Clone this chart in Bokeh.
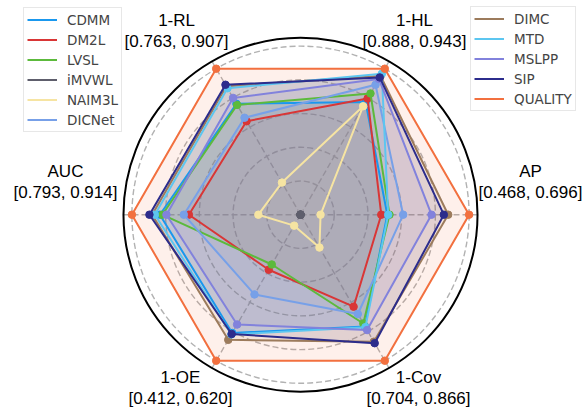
import numpy as np
from bokeh.plotting import figure
from bokeh.models import Legend, LegendItem, Range1d
from bokeh.embed import file_html
from bokeh.resources import INLINE
from bokeh.core.properties import value

# ---- data (normalised scores, 0 = centre, 1 = best) ----
axis_names = ["AP", "1-HL", "1-RL", "AUC", "1-OE", "1-Cov"]
axis_ranges = ["[0.468, 0.696]", "[0.888, 0.943]", "[0.763, 0.907]",
               "[0.793, 0.914]", "[0.412, 0.620]", "[0.704, 0.866]"]
axis_angles_deg = [0, 60, 120, 180, 240, 300]

methods = ["CDMM", "DM2L", "LVSL", "iMVWL", "NAIM3L", "DICNet",
           "DIMC", "MTD", "MSLPP", "SIP", "QUALITY"]
colors = ["#1a98ee", "#d93636", "#5cba3c", "#5e5e6c", "#f6e4a2", "#77a0e8",
          "#9c7b5c", "#5cc6f0", "#8282dc", "#2c2c8c", "#f2703f"]

CDMM = [0.515, 0.772, 0.760, 0.834, 0.810, 0.765]
DM2L = [0.479, 0.796, 0.640, 0.662, 0.377, 0.630]
LVSL = [0.528, 0.830, 0.752, 0.820, 0.341, 0.745]
iMVWL = [0.0, 0.0, 0.0, 0.0, 0.0, 0.0]
NAIM3L = [0.119, 0.743, 0.220, 0.250, 0.075, 0.225]
DICNet = [0.609, 0.890, 0.664, 0.692, 0.546, 0.680]
DIMC = [0.876, 0.950, 0.880, 0.880, 0.857, 0.870]
MTD = [0.520, 0.965, 0.866, 0.864, 0.820, 0.770]
MSLPP = [0.777, 0.930, 0.800, 0.795, 0.752, 0.790]
SIP = [0.850, 0.940, 0.890, 0.896, 0.817, 0.880]
QUALITY = [1.0, 1.0, 1.0, 1.0, 1.0, 1.0]
scores = [CDMM, DM2L, LVSL, iMVWL, NAIM3L, DICNet, DIMC, MTD, MSLPP, SIP, QUALITY]

grid_levels = [0.2, 0.4, 0.6, 0.8, 1.0]
r_max = 1.05

# ---- layout ----
W, H = 584, 407
cx, cy = 300.0, 214.2      # centre in canvas pixels (from top-left)
s = 168.6                  # pixels per unit radius

p = figure(width=W, height=H, output_backend="svg", toolbar_location=None,
           x_axis_location=None, y_axis_location=None, min_border=0,
           x_range=Range1d(-cx / s, (W - cx) / s),
           y_range=Range1d(-(H - cy) / s, cy / s))
p.grid.visible = False
p.outline_line_color = None
p.background_fill_color = "white"

theta = np.deg2rad(axis_angles_deg)
ct, st = np.cos(theta), np.sin(theta)

# grid
for g in grid_levels:
    p.circle(x=0, y=0, radius=g, fill_color=None, line_color="#b2b2b2",
             line_width=1.4, line_dash="6 3")
p.segment(x0=np.zeros(6), y0=np.zeros(6), x1=ct * r_max, y1=st * r_max,
          line_color="#b2b2b2", line_width=1.4, line_dash="6 3")

# fills first
for sc, c in zip(scores, colors):
    r = np.array(sc)
    p.patch(list(r * ct), list(r * st), fill_color=c, fill_alpha=0.1, line_color=None)

# lines + markers
line_renderers = []
for sc, c in zip(scores, colors):
    r = np.array(sc)
    xs = list(r * ct) + [r[0] * ct[0]]
    ys = list(r * st) + [r[0] * st[0]]
    lr = p.line(xs, ys, line_color=c, line_width=2)
    p.scatter(list(r * ct), list(r * st), size=7.5, fill_color=c, line_color=c)
    line_renderers.append(lr)

# outer spine
p.circle(x=0, y=0, radius=r_max, fill_color=None, line_color="black", line_width=2)

# axis labels
lab_x = []
lab_y = []
for a in axis_angles_deg:
    if a == 0:
        lab_x.append(1.364); lab_y.append(0.191)
    elif a == 180:
        lab_x.append(-1.394); lab_y.append(0.191)
    elif a in (60, 120):
        lab_x.append(0.676 if a == 60 else -0.735); lab_y.append(1.087)
    else:
        lab_x.append(-0.712 if a == 240 else 0.700); lab_y.append(-1.025)
dy = 10.5 / s
p.text(x=lab_x, y=[v + dy for v in lab_y], text=axis_names,
       text_font=value("Liberation Sans"), text_font_size="17px",
       text_align="center", text_baseline="middle", text_color="black")
p.text(x=lab_x, y=[v - dy for v in lab_y], text=axis_ranges,
       text_font=value("Liberation Sans"), text_font_size="17px",
       text_align="center", text_baseline="middle", text_color="black")

# legends
def make_legend(idx, loc):
    items = [LegendItem(label=methods[i], renderers=[line_renderers[i]]) for i in idx]
    lg = Legend(items=items, location=loc, orientation="vertical",
                label_text_font="DejaVu Sans", label_text_font_size="13.5px",
                glyph_width=30, glyph_height=17, label_height=17, spacing=3,
                padding=3, margin=0, label_standoff=10,
                border_line_color="#d0d0d0", border_line_width=1,
                background_fill_color="white", background_fill_alpha=0.85)
    return lg

p.add_layout(make_legend(range(0, 6), (23, 275)))
p.add_layout(make_legend(range(6, 11), (470, 296)))

open("out.html", "w").write(file_html(p, INLINE))
